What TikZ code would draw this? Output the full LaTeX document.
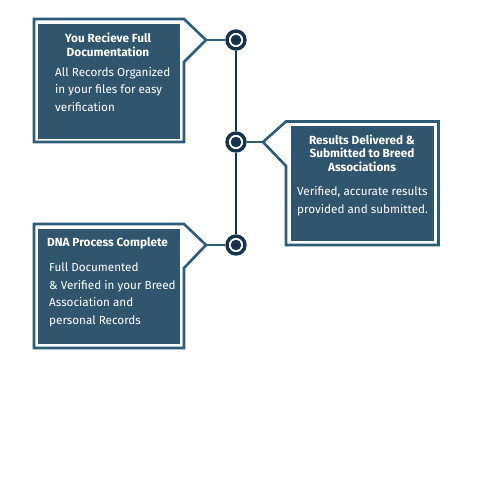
\documentclass[tikz,border=0pt]{standalone}
\usepackage{fontspec}
\setmainfont{Fira Sans}
\definecolor{panelfill}{HTML}{30566F}
\definecolor{paneledge}{HTML}{2E5B76}
\definecolor{dotnavy}{HTML}{17334B}
\tikzset{
    panel/.style={fill=panelfill},
    frame/.style={draw=paneledge, line width=2.6pt, line join=miter},
    hub/.style={circle, draw=dotnavy, fill=white, line width=3.4pt, minimum size=18pt, inner sep=0pt},
    stem/.style={draw=dotnavy, line width=2.4pt},
    link/.style={draw=paneledge, line width=2.6pt},
    heading/.style={text=white, inner sep=0pt, font=\bfseries\fontsize{11.8}{13.4}\selectfont},
    bodytext/.style={text=white, inner sep=0pt, align=left, font=\fontsize{11.7}{17.6}\selectfont}
}
\begin{document}
\begin{tikzpicture}[x=1pt, y=-1pt]
    \useasboundingbox (0,0) rectangle (491,491);

    % Timeline hubs
    \node[hub] (hub1) at (236,40) {};
    \node[hub] (hub2) at (236,142) {};
    \node[hub] (hub3) at (236,245) {};
    \draw[stem] (hub1) -- (hub2);
    \draw[stem] (hub2) -- (hub3);
    \fill[dotnavy] (hub1) circle (5.3);
    \fill[dotnavy] (hub2) circle (5.3);
    \fill[dotnavy] (hub3) circle (5.3);

    % Top panel
    \fill[panel] (37.5,23.5) rectangle (180,138.5);
    \coordinate (tip1) at (206,40);
    \draw[frame] (184,62) -- (184,142) -- (34,142) -- (34,19) -- (184,19) -- (tip1) -- cycle;
    \draw[link] (tip1) -- (hub1);
    \node[heading, anchor=north, align=center] (head1) at (108,33) {You Recieve Full\\Documentation};
    \node[bodytext, anchor=north west] (body1) at (55,67) {All Records Organized\\in your files for easy\\verification};

    % Middle panel
    \fill[panel] (291,126) rectangle (433.5,241);
    \coordinate (tip2) at (263,142);
    \draw[frame] (286,166) -- (tip2) -- (286,121.5) -- (438.5,121.5) -- (438.5,245) -- (286,245) -- cycle;
    \draw[link] (hub2) -- (tip2);
    \node[heading, anchor=north, align=center] (head2) at (362,134.5) {Results Delivered \&\\Submitted to Breed\\Associations};
    \node[bodytext, anchor=north west] (body2) at (297,186.5) {Verified, accurate results\\provided and submitted.};

    % Bottom panel
    \fill[panel] (37.5,228.5) rectangle (180,344);
    \coordinate (tip3) at (206,245);
    \draw[frame] (184,268) -- (184,348) -- (34,348) -- (34,224) -- (184,224) -- (tip3) -- cycle;
    \draw[link] (tip3) -- (hub3);
    \node[heading, anchor=north west] (head3) at (47,237.5) {DNA Process Complete};
    \node[bodytext, anchor=north west] (body3) at (49,262.5) {Full Documented\\\& Verified in your Breed\\Association and\\personal Records};
\end{tikzpicture}
\end{document}
